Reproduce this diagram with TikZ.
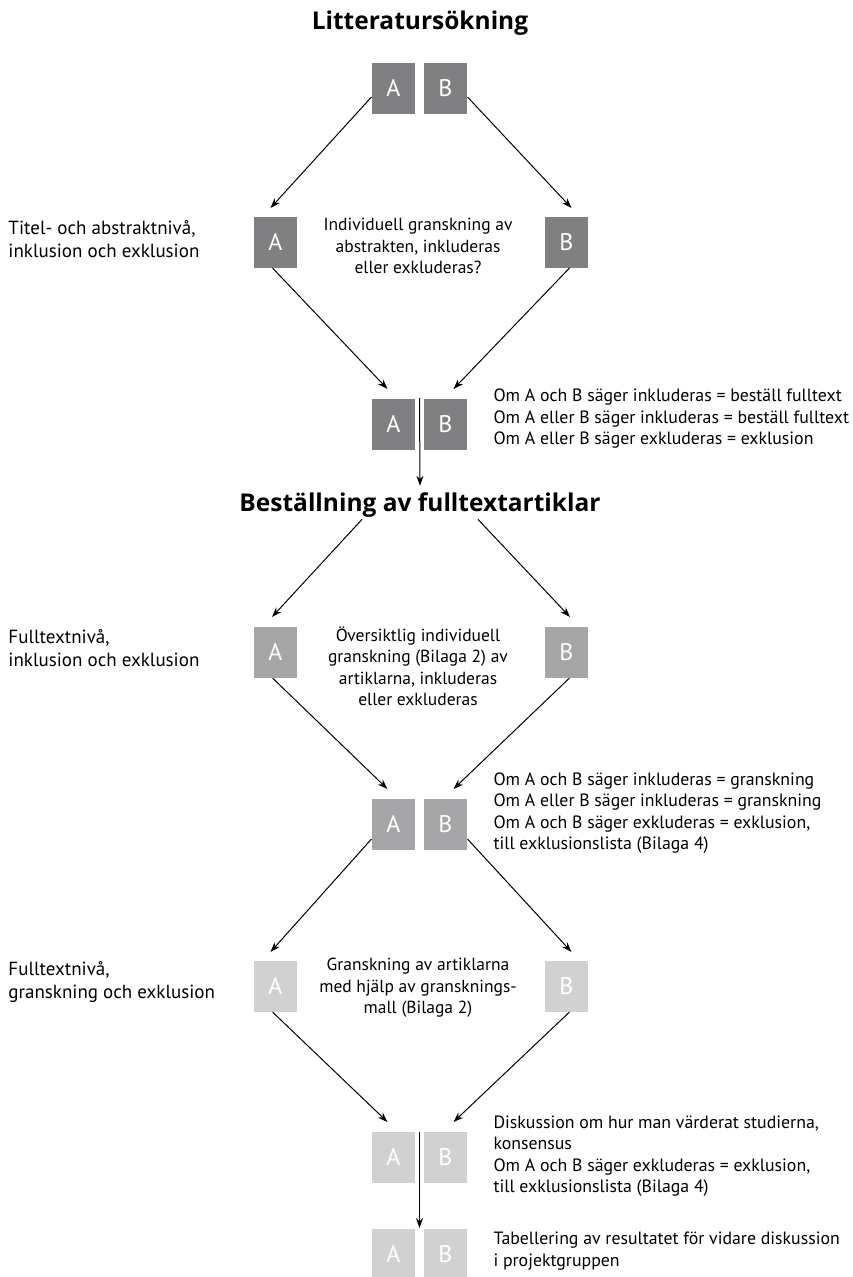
\documentclass[tikz,border=0pt]{standalone}
\usepackage{fontspec}
\setmainfont{PT Sans}
\newfontfamily\rubrikfont{Open Sans}
\usetikzlibrary{arrows.meta}

\definecolor{boxdark}{RGB}{128,128,131}
\definecolor{boxmid}{RGB}{166,166,168}
\definecolor{boxlight}{RGB}{209,209,210}

\begin{document}
\begin{tikzpicture}[->, >={Stealth[length=10pt, width=7pt]}, line width=1pt, x=1pt, y=-1pt]
                \tikzstyle{box}=[rectangle, minimum width=43pt, minimum height=51pt, inner sep=0pt, text=white, font=\fontsize{24}{24}\selectfont]
                \tikzstyle{head}=[inner sep=0pt, anchor=base, font=\rubrikfont\bfseries\fontsize{24.5}{24.5}\selectfont]
                \tikzstyle{txt}=[inner sep=0pt, align=left, anchor=west, font=\fontsize{17.8}{21.5}\selectfont]
                \tikzstyle{lbl}=[inner sep=0pt, align=left, anchor=west, font=\fontsize{19}{23}\selectfont]
                \tikzstyle{mid}=[inner sep=0pt, align=center, font=\fontsize{17.5}{21.5}\selectfont]

                \useasboundingbox (0,0) rectangle (853,1277);

                % rubriker
                \node[head] at (420, 29)  (H1)  {Litteratursökning};
                \node[head] at (420, 511) (H2)  {Beställning av fulltextartiklar};

                % rutor A och B
                \node[box, fill=boxdark]  at (393.5, 88)   (A1) {A};
                \node[box, fill=boxdark]  at (445.5, 88)   (B1) {B};
                \node[box, fill=boxdark]  at (275.5, 242)  (A2) {A};
                \node[box, fill=boxdark]  at (566.5, 242)  (B2) {B};
                \node[box, fill=boxdark]  at (393.5, 424)  (A3) {A};
                \node[box, fill=boxdark]  at (445.5, 424)  (B3) {B};
                \node[box, fill=boxmid]   at (275.5, 652)  (A4) {A};
                \node[box, fill=boxmid]   at (566.5, 652)  (B4) {B};
                \node[box, fill=boxmid]   at (393.5, 824)  (A5) {A};
                \node[box, fill=boxmid]   at (445.5, 824)  (B5) {B};
                \node[box, fill=boxlight] at (275.5, 986)  (A6) {A};
                \node[box, fill=boxlight] at (566.5, 986)  (B6) {B};
                \node[box, fill=boxlight] at (393.5, 1157) (A7) {A};
                \node[box, fill=boxlight] at (445.5, 1157) (B7) {B};
                \node[box, fill=boxlight] at (393.5, 1254) (A8) {A};
                \node[box, fill=boxlight] at (445.5, 1254) (B8) {B};

                \coordinate (G3) at (419.5, 398);
                \coordinate (G7) at (419.5, 1132);

                % texter till vänster
                \node[lbl] at (8, 239)  (V2) {Titel- och abstraktnivå,\\inklusion och exklusion};
                \node[lbl] at (8, 648)  (V4) {Fulltextnivå,\\inklusion och exklusion};
                \node[lbl] at (8, 982)  (V6) {Fulltextnivå,\\granskning och exklusion};

                % texter i mitten
                \node[mid] at (418, 246)  (M2) {Individuell granskning av\\abstrakten, inkluderas\\eller exkluderas?};
                \node[mid] at (418, 666)  (M4) {Översiktlig individuell\\granskning (Bilaga 2) av\\artiklarna, inkluderas\\eller exkluderas};
                \node[mid] at (418, 988)  (M6) {Granskning av artiklarna\\med hjälp av gransknings-\\mall (Bilaga 2)};

                % texter till höger
                \node[txt] at (493, 419)  (R3) {Om A och B säger inkluderas = beställ fulltext\\Om A eller B säger inkluderas = beställ fulltext\\Om A eller B säger exkluderas = exklusion};
                \node[txt] at (493, 813)  (R5) {Om A och B säger inkluderas = granskning\\Om A eller B säger inkluderas = granskning\\Om A och B säger exkluderas = exklusion,\\till exklusionslista (Bilaga 4)};
                \node[txt] at (493, 1156) (R7) {Diskussion om hur man värderat studierna,\\konsensus\\Om A och B säger exkluderas = exklusion,\\till exklusionslista (Bilaga 4)};
                \node[txt] at (493, 1251) (R8) {Tabellering av resultatet för vidare diskussion\\i projektgruppen};

                \draw ([yshift=-9pt]A1.west) -- ([xshift=-5pt, yshift=8pt]A2.north);
                \draw ([yshift=-9pt]B1.east) -- ([xshift=5pt, yshift=8pt]B2.north);
                \draw ([xshift=-3pt]A2.south) -- ([xshift=-6pt, yshift=9pt]A3.north);
                \draw ([xshift=3pt]B2.south) -- ([xshift=8pt, yshift=9pt]B3.north);
                \draw (G3) -- ([yshift=6pt]H2.north);
                \draw ([xshift=-58pt, yshift=-2pt]H2.south) -- ([xshift=-3.5pt, yshift=9pt]A4.north);
                \draw ([xshift=58pt, yshift=-2pt]H2.south) -- ([xshift=3.5pt, yshift=9pt]B4.north);
                \draw ([xshift=-3pt]A4.south) -- ([xshift=-6pt, yshift=9pt]A5.north);
                \draw ([xshift=3pt]B4.south) -- ([xshift=8pt, yshift=9pt]B5.north);
                \draw ([yshift=-15pt]A5.west) -- ([xshift=-5pt, yshift=8pt]A6.north);
                \draw ([yshift=-15pt]B5.east) -- ([xshift=5pt, yshift=8pt]B6.north);
                \draw ([xshift=-3pt]A6.south) -- ([xshift=-6pt, yshift=9pt]A7.north);
                \draw ([xshift=3pt]B6.south) -- ([xshift=8pt, yshift=9pt]B7.north);
                \draw (G7) -- ([xshift=-26pt]B8.north);
\end{tikzpicture}
\end{document}
